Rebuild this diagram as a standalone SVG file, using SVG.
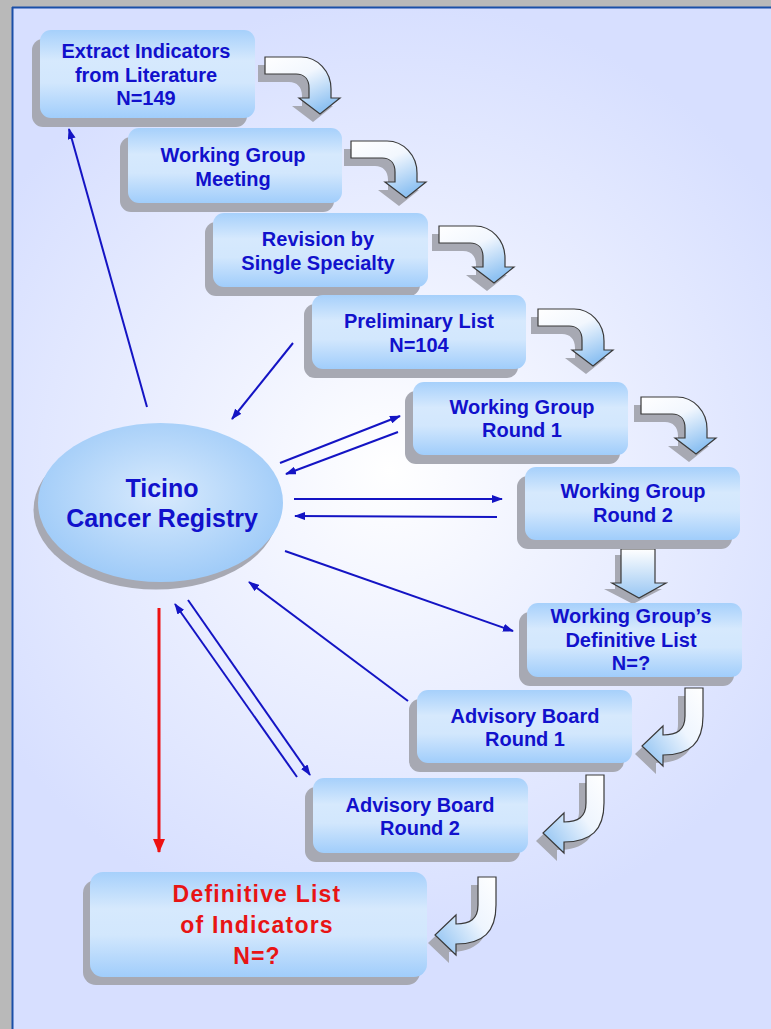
<svg xmlns="http://www.w3.org/2000/svg" width="771" height="1029" viewBox="0 0 771 1029">
<defs>
<radialGradient id="bg" cx="390" cy="470" r="470" gradientUnits="userSpaceOnUse">
<stop offset="0" stop-color="#ffffff"/>
<stop offset="0.35" stop-color="#f0f3ff"/>
<stop offset="1" stop-color="#d7dfff"/>
</radialGradient>
<linearGradient id="boxg" x1="0" y1="0" x2="0" y2="1">
<stop offset="0" stop-color="#a6d0fb"/>
<stop offset="0.35" stop-color="#d6e9fd"/>
<stop offset="0.6" stop-color="#d2e7fd"/>
<stop offset="1" stop-color="#a0cdfb"/>
</linearGradient>
<radialGradient id="ellg" cx="0.5" cy="0.45" r="0.55">
<stop offset="0" stop-color="#d8eafd"/>
<stop offset="1" stop-color="#9fcbf8"/>
</radialGradient>
<linearGradient id="arrA" x1="0" y1="0" x2="0.6" y2="1">
<stop offset="0" stop-color="#ffffff"/>
<stop offset="0.45" stop-color="#f2f7fe"/>
<stop offset="1" stop-color="#8fc2f2"/>
</linearGradient>
<linearGradient id="arrB" x1="1" y1="0" x2="0" y2="0.9">
<stop offset="0" stop-color="#ffffff"/>
<stop offset="0.45" stop-color="#eef5fe"/>
<stop offset="1" stop-color="#8fc2f2"/>
</linearGradient>
<linearGradient id="arrC" x1="0" y1="0" x2="0" y2="1">
<stop offset="0" stop-color="#ffffff"/>
<stop offset="1" stop-color="#98c6f3"/>
</linearGradient>
<marker id="mb" markerWidth="11" markerHeight="8" refX="10" refY="4" orient="auto" markerUnits="userSpaceOnUse">
<path d="M0,0 L11,4 L0,8 z" fill="#1414c4"/>
</marker>
<marker id="mr" markerWidth="14" markerHeight="12" refX="13" refY="6" orient="auto" markerUnits="userSpaceOnUse">
<path d="M0,0 L14,6 L0,12 z" fill="#ee1111"/>
</marker>
<path id="pA" d="M0,0 L36,0 A30,32 0 0 1 66,32 L66,41 L75,41 L55,57 L34,41 L44,41 L44,31 C44,22 39,17 31,17 L0,17 Z"/>
<path id="pB" d="M0,0 L18,0 L18,28 C18,55 5,67 -22,67 L-22,78 L-43,58 L-22,38 L-22,47 C-8,47 0,42 0,28 Z"/>
</defs>
<style>
.sh{fill:#a7a9b3}
.bx{fill:url(#boxg)}
.t{font-family:"Liberation Sans",Arial,sans-serif;font-weight:bold;font-size:20px;fill:#1111cc;text-anchor:middle}
.tr{font-family:"Liberation Sans",Arial,sans-serif;font-weight:bold;font-size:23px;fill:#e81414;text-anchor:middle;letter-spacing:1.2px}
.te{font-family:"Liberation Sans",Arial,sans-serif;font-weight:bold;font-size:25px;fill:#1111cc;text-anchor:middle}
.ba{stroke:#3a3a3a;stroke-width:1.2}
.c{stroke:#1414c4;stroke-width:2;fill:none;marker-end:url(#mb)}
</style>
<rect x="0" y="0" width="771" height="1029" fill="#b9b9b9"/>
<rect x="12" y="7" width="759" height="1022" fill="url(#bg)"/>
<line x1="12" y1="7.5" x2="771" y2="7.5" stroke="#1a4fa8" stroke-width="2"/>
<line x1="12.5" y1="7" x2="12.5" y2="1029" stroke="#1a4fa8" stroke-width="2"/>

<g id="flow-arrows">
<g transform="translate(265,57)"><use href="#pA" class="sh" transform="translate(-7,8)"/><use href="#pA" fill="url(#arrA)" class="ba"/></g>
<g transform="translate(351,141)"><use href="#pA" class="sh" transform="translate(-7,8)"/><use href="#pA" fill="url(#arrA)" class="ba"/></g>
<g transform="translate(439,226)"><use href="#pA" class="sh" transform="translate(-7,8)"/><use href="#pA" fill="url(#arrA)" class="ba"/></g>
<g transform="translate(538,309)"><use href="#pA" class="sh" transform="translate(-7,8)"/><use href="#pA" fill="url(#arrA)" class="ba"/></g>
<g transform="translate(641,397)"><use href="#pA" class="sh" transform="translate(-7,8)"/><use href="#pA" fill="url(#arrA)" class="ba"/></g>
<g><path d="M615,555 L651,555 L651,589 L662,589 L633,604 L604,589 L615,589 Z" class="sh"/>
<path d="M621,549 L655,549 L655,583 L666,583 L639,598 L612,583 L621,583 Z" fill="url(#arrC)" class="ba"/></g>
<g transform="translate(685,688)"><use href="#pB" class="sh" transform="translate(-7,8)"/><use href="#pB" fill="url(#arrB)" class="ba"/></g>
<g transform="translate(586,775)"><use href="#pB" class="sh" transform="translate(-7,8)"/><use href="#pB" fill="url(#arrB)" class="ba"/></g>
<g transform="translate(478,877)"><use href="#pB" class="sh" transform="translate(-7,8)"/><use href="#pB" fill="url(#arrB)" class="ba"/></g>
</g>

<g id="n-extract"><rect x="32" y="39" width="215" height="88" rx="11" class="sh"/><rect x="40" y="30" width="215" height="88" rx="11" class="bx"/>
<text class="t" x="146" y="58">Extract Indicators</text><text class="t" x="146" y="82">from Literature</text><text class="t" x="146" y="105">N=149</text></g>
<g id="n-wgmeeting"><rect x="120" y="137" width="214" height="75" rx="11" class="sh"/><rect x="128" y="128" width="214" height="75" rx="11" class="bx"/>
<text class="t" x="233" y="162">Working Group</text><text class="t" x="233" y="186">Meeting</text></g>
<g id="n-revision"><rect x="205" y="222" width="215" height="74" rx="11" class="sh"/><rect x="213" y="213" width="215" height="74" rx="11" class="bx"/>
<text class="t" x="318" y="246">Revision by</text><text class="t" x="318" y="270">Single Specialty</text></g>
<g id="n-prelim"><rect x="304" y="304" width="214" height="74" rx="11" class="sh"/><rect x="312" y="295" width="214" height="74" rx="11" class="bx"/>
<text class="t" x="419" y="328">Preliminary List</text><text class="t" x="419" y="352">N=104</text></g>
<g id="n-wg1"><rect x="405" y="391" width="215" height="73" rx="11" class="sh"/><rect x="413" y="382" width="215" height="73" rx="11" class="bx"/>
<text class="t" x="522" y="414">Working Group</text><text class="t" x="522" y="437">Round 1</text></g>
<g id="n-wg2"><rect x="517" y="476" width="215" height="73" rx="11" class="sh"/><rect x="525" y="467" width="215" height="73" rx="11" class="bx"/>
<text class="t" x="633" y="498">Working Group</text><text class="t" x="633" y="522">Round 2</text></g>
<g id="n-wgdef"><rect x="519" y="612" width="215" height="74" rx="11" class="sh"/><rect x="527" y="603" width="215" height="74" rx="11" class="bx"/>
<text class="t" x="631" y="623">Working Group’s</text><text class="t" x="631" y="647">Definitive List</text><text class="t" x="631" y="670">N=?</text></g>
<g id="n-ab1"><rect x="409" y="699" width="215" height="73" rx="11" class="sh"/><rect x="417" y="690" width="215" height="73" rx="11" class="bx"/>
<text class="t" x="525" y="723">Advisory Board</text><text class="t" x="525" y="746">Round 1</text></g>
<g id="n-ab2"><rect x="305" y="787" width="215" height="75" rx="11" class="sh"/><rect x="313" y="778" width="215" height="75" rx="11" class="bx"/>
<text class="t" x="420" y="812">Advisory Board</text><text class="t" x="420" y="835">Round 2</text></g>
<g id="n-final"><rect x="83" y="880" width="337" height="105" rx="13" class="sh"/><rect x="90" y="872" width="337" height="105" rx="13" class="bx"/>
<text class="tr" x="257" y="902">Definitive List</text><text class="tr" x="257" y="933">of Indicators</text><text class="tr" x="257" y="964">N=?</text></g>
<g id="n-registry"><ellipse cx="156" cy="510" rx="122.5" ry="79.5" class="sh"/><ellipse cx="160.5" cy="502.5" rx="122.5" ry="79.5" fill="url(#ellg)"/>
<text class="te" x="162" y="497">Ticino</text><text class="te" x="162" y="527">Cancer Registry</text></g>

<g id="connectors">
<line class="c" x1="147" y1="407" x2="69" y2="129"/>
<line class="c" x1="293" y1="343" x2="232" y2="419"/>
<line class="c" x1="280" y1="463" x2="400" y2="416"/>
<line class="c" x1="398" y1="432" x2="286" y2="474"/>
<line class="c" x1="294" y1="499" x2="502" y2="499"/>
<line class="c" x1="497" y1="517" x2="295" y2="516"/>
<line class="c" x1="285" y1="551" x2="513" y2="631"/>
<line class="c" x1="408" y1="701" x2="249" y2="582"/>
<line class="c" x1="297" y1="777" x2="175" y2="604"/>
<line class="c" x1="188" y1="600" x2="310" y2="775"/>
<line x1="159" y1="608" x2="159" y2="852" stroke="#ee1111" stroke-width="3" marker-end="url(#mr)"/>
</g>
</svg>
